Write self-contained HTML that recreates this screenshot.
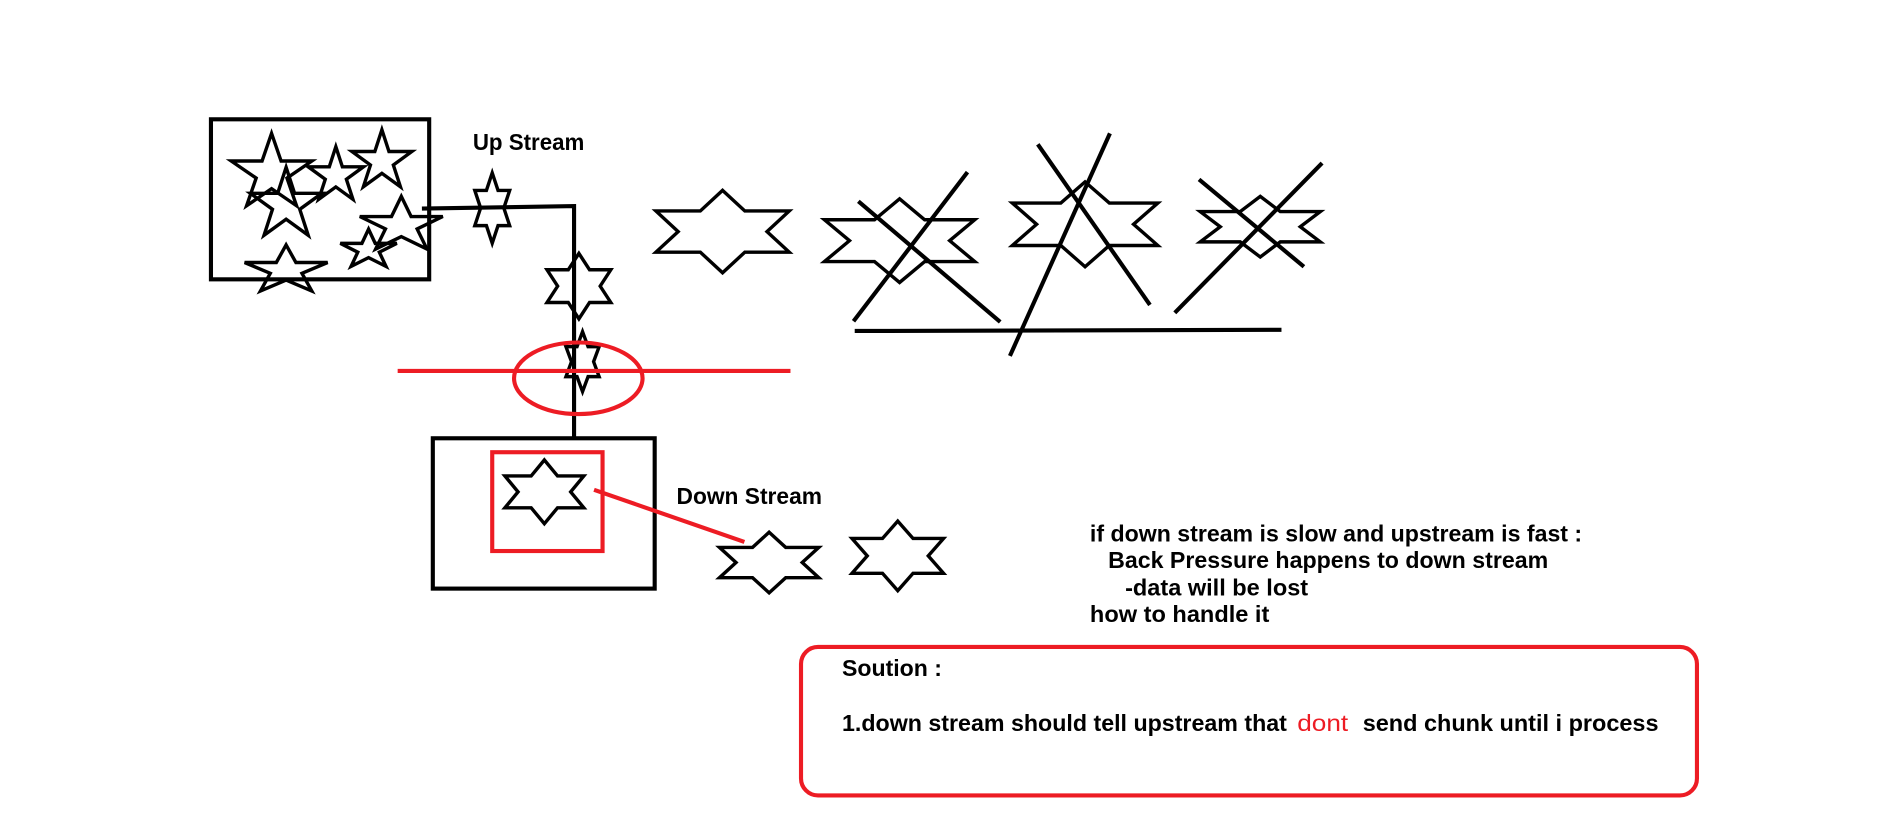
<!DOCTYPE html>
<html><head><meta charset="utf-8"><style>
html,body{margin:0;padding:0;background:#fff;}
svg{display:block;}
text{font-family:"Liberation Sans",sans-serif;font-weight:bold;font-size:19px;fill:#000;}
</style></head><body>
<svg width="1901" height="822" viewBox="0 0 1568 678" xmlns="http://www.w3.org/2000/svg">
<defs>
<polygon id="hx" points="0,-1 0.289,-0.5 0.866,-0.5 0.577,0 0.866,0.5 0.289,0.5 0,1 -0.289,0.5 -0.866,0.5 -0.577,0 -0.866,-0.5 -0.289,-0.5" fill="none" stroke="#000" stroke-width="3.4" vector-effect="non-scaling-stroke" stroke-linejoin="miter"/>
<polygon id="pt" points="0,-1 0.2245,-0.309 0.951,-0.309 0.363,0.118 0.588,0.809 0,0.382 -0.588,0.809 -0.363,0.118 -0.951,-0.309 -0.2245,-0.309" fill="none" stroke="#000" stroke-width="3.4" vector-effect="non-scaling-stroke"/>
</defs>
<g fill="none" stroke="#000" stroke-width="3.4">
<rect x="174" y="98.4" width="180" height="132"/>
<polyline points="348,172 473.5,170 473.5,362"/>
<rect x="357" y="361.5" width="183" height="124"/>
<line x1="705" y1="273" x2="1057" y2="272"/>
<line x1="708" y1="166" x2="825" y2="265.5"/>
<line x1="798" y1="142" x2="704" y2="265"/>
<line x1="856" y1="119" x2="948.5" y2="251.5"/>
<line x1="915.5" y1="110" x2="833" y2="293.6"/>
<line x1="989" y1="148" x2="1075.5" y2="220"/>
<line x1="1090.5" y1="134.5" x2="969" y2="258"/>
</g>
<use href="#pt" transform="translate(224,143) scale(35,33)"/>
<use href="#pt" transform="translate(277,145) scale(24)"/>
<use href="#pt" transform="translate(315,133) scale(26)"/>
<use href="#pt" transform="translate(236,169) scale(31)"/>
<use href="#pt" transform="translate(331,186) scale(36,24)"/>
<use href="#pt" transform="translate(304,206) scale(24.5,17)"/>
<use href="#pt" transform="translate(236,223) scale(36,21)"/>
<use href="#hx" transform="translate(406,171.6) scale(16.6,29)"/>
<use href="#hx" transform="translate(477.5,236) scale(30.4,27)"/>
<use href="#hx" transform="translate(480.5,298.3) scale(15.8,24.7)"/>
<use href="#hx" transform="translate(449,405.7) scale(37.6,26.3)"/>
<use href="#hx" transform="translate(634.4,464) scale(47.3,25)"/>
<use href="#hx" transform="translate(740.5,458.5) scale(43.6,28.7)"/>
<use href="#hx" transform="translate(596,191) scale(63.5,34)"/>
<use href="#hx" transform="translate(742,198.5) scale(71.6,34.5)"/>
<use href="#hx" transform="translate(895,185) scale(69.3,35)"/>
<use href="#hx" transform="translate(1039.5,187) scale(57.2,25)"/>
<g fill="none" stroke="#ed1c24" stroke-width="3.4">
<line x1="328" y1="306" x2="652" y2="306"/>
<ellipse cx="477" cy="312" rx="53" ry="29.5"/>
<rect x="406" y="373" width="91" height="81.5"/>
<line x1="490" y1="404" x2="614" y2="447"/>
<rect x="660.7" y="533.6" width="739" height="122.5" rx="14"/>
</g>
<text x="390" y="123.7" textLength="92" lengthAdjust="spacingAndGlyphs" font-size="18">Up Stream</text>
<text x="558" y="415.7" textLength="120" lengthAdjust="spacingAndGlyphs" font-size="18">Down Stream</text>
<text x="899" y="446.8" textLength="406" lengthAdjust="spacingAndGlyphs">if down stream is slow and upstream is fast :</text>
<text x="914" y="468.7" textLength="363" lengthAdjust="spacingAndGlyphs">Back Pressure happens to down stream</text>
<text x="928" y="491" textLength="151" lengthAdjust="spacingAndGlyphs">-data will be lost</text>
<text x="899" y="513" textLength="148" lengthAdjust="spacingAndGlyphs">how to handle it</text>
<text x="694.5" y="557.6" textLength="82.5" lengthAdjust="spacingAndGlyphs">Soution :</text>
<text x="694.5" y="603" textLength="367" lengthAdjust="spacingAndGlyphs">1.down stream should tell upstream that</text>
<text x="1070" y="603" textLength="42" lengthAdjust="spacingAndGlyphs" fill="#ed1c24" style="fill:#ed1c24;font-weight:normal">dont</text>
<text x="1124" y="603" textLength="244" lengthAdjust="spacingAndGlyphs">send chunk until i process</text>
</svg>
</body></html>
